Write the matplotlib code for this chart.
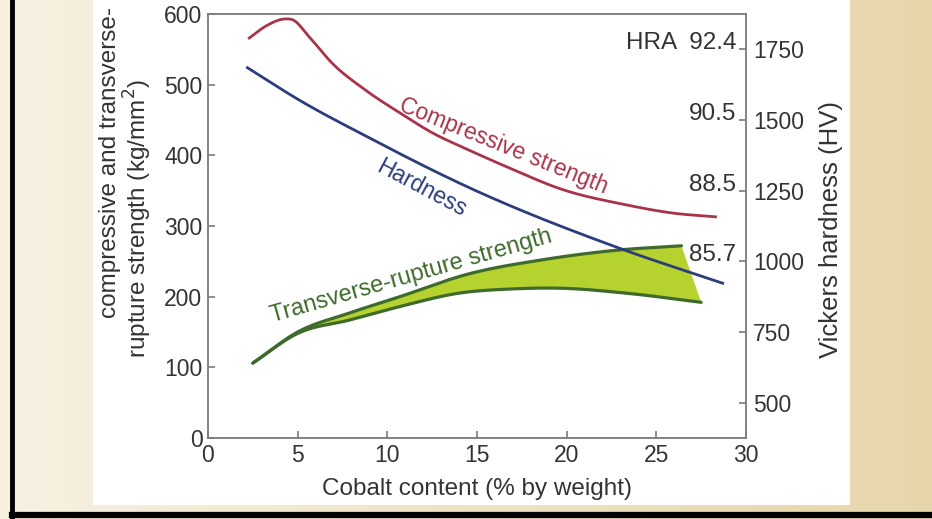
import numpy as np
import matplotlib.pyplot as plt
from matplotlib.patches import Rectangle, Polygon
from matplotlib.lines import Line2D
from matplotlib.colors import LinearSegmentedColormap

plt.rcParams['font.family'] = ['Liberation Sans', 'DejaVu Sans']

# Cobalt content (% by weight) vs strength (kg/mm^2)
comp_x = [2.3, 3.3, 4.3, 4.7, 5.7, 6.9, 8.8, 10.7, 12.5, 14.5, 17.0, 19.6, 23.3, 26.0, 28.3]
comp_y = [566, 584, 593, 592, 566, 531, 492, 460, 432, 408, 380, 353, 330, 318, 313]

# hardness is drawn on the left (strength) scale
hard_x = [2.2, 5.1, 8.9, 14.5, 23.0, 28.7]
hard_y = [524, 478, 426, 355, 268, 219]

trs_up_x = [2.5, 5.0, 7.9, 10.7, 14.5, 18.6, 22.9, 26.4]
trs_up_y = [106, 150, 177, 200, 232, 252, 266, 272]
trs_lo_x = [2.5, 5.0, 7.9, 10.7, 14.0, 17.0, 19.6, 23.3, 27.5]
trs_lo_y = [106, 148, 167, 186, 205, 211, 212, 205, 192]

hv_ticks = [500, 750, 1000, 1250, 1500, 1750]
hra_levels = [1750, 1500, 1250, 1000]
hra_labels = ['HRA  92.4', '90.5', '88.5', '85.7']

RED = '#a9344a'
BLUE = '#2c3d7c'
GREEN = '#3e6b2c'
FILL = '#b6d22e'
GREY = '#7a7a7a'
INK = '#333333'


def smooth(xs, ys, n=300):
    """Cubic Hermite curve through the read points (x must increase)."""
    xs = np.asarray(xs, float)
    ys = np.asarray(ys, float)
    m = np.gradient(ys, xs)
    xx = np.linspace(xs[0], xs[-1], n)
    yy = np.empty_like(xx)
    for k, x in enumerate(xx):
        i = min(np.searchsorted(xs, x, side='right') - 1, len(xs) - 2)
        h = xs[i + 1] - xs[i]
        t = (x - xs[i]) / h
        h00 = 2 * t**3 - 3 * t**2 + 1
        h10 = t**3 - 2 * t**2 + t
        h01 = -2 * t**3 + 3 * t**2
        h11 = t**3 - t**2
        yy[k] = h00 * ys[i] + h10 * h * m[i] + h01 * ys[i + 1] + h11 * h * m[i + 1]
    return xx, yy


fig = plt.figure(figsize=(9.32, 5.19), dpi=100)
W, H = 932, 519

# beige backdrop with a soft gradient
bg = fig.add_axes([0, 0, 1, 1], zorder=-10)
grad = np.linspace(0, 1, 256).reshape(1, -1)
cmap = LinearSegmentedColormap.from_list('beige', ['#f8f1e2', '#efe3c4', '#e8d6ab'])
bg.imshow(grad, aspect='auto', cmap=cmap, extent=[0, 1, 0, 1])
bg.set_xlim(0, 1)
bg.set_ylim(0, 1)
bg.axis('off')

fig.patches.append(Rectangle((93 / W, (H - 505) / H), (850 - 93) / W, 505 / H,
                             transform=fig.transFigure, facecolor='white',
                             edgecolor='none', zorder=-5))
fig.lines.append(Line2D([12 / W, 12 / W], [0, 1], transform=fig.transFigure,
                        color='black', lw=3.5))
fig.lines.append(Line2D([12 / W, 1], [4 / H, 4 / H], transform=fig.transFigure,
                        color='black', lw=4.5))

ax = fig.add_axes([208 / W, 81 / H, 538 / W, 424 / H])
ax.set_xlim(0, 30)
ax.set_ylim(0, 600)
ax.set_xticks([0, 5, 10, 15, 20, 25, 30])
ax.set_yticks([0, 100, 200, 300, 400, 500, 600])
for s in ax.spines.values():
    s.set_color(GREY)
    s.set_linewidth(1.3)
ax.tick_params(direction='in', length=5, width=1.2, color=GREY,
               labelsize=16.5, labelcolor=INK, pad=4)

# transverse-rupture band
ux, uy = smooth(trs_up_x, trs_up_y)
lx, ly = smooth(trs_lo_x, trs_lo_y)
poly = np.column_stack([np.concatenate([ux, lx[::-1]]), np.concatenate([uy, ly[::-1]])])
ax.add_patch(Polygon(poly, closed=True, facecolor=FILL, edgecolor='none', zorder=1))
ax.plot(ux, uy, color=GREEN, lw=2.3, solid_capstyle='round', zorder=2)
ax.plot(lx, ly, color=GREEN, lw=2.3, solid_capstyle='round', zorder=2)

cx, cy = smooth(comp_x, comp_y)
ax.plot(cx, cy, color=RED, lw=2.0, zorder=3)
hx, hy = smooth(hard_x, hard_y)
ax.plot(hx, hy, color=BLUE, lw=2.0, zorder=3)

ax.text(10.5, 457, 'Compressive strength', color=RED, fontsize=16.5,
        rotation=-22, rotation_mode='anchor', ha='left', va='bottom')
ax.text(9.2, 372, 'Hardness', color=BLUE, fontsize=16.5,
        rotation=-28, rotation_mode='anchor', ha='left', va='bottom')
ax.text(3.7, 157, 'Transverse-rupture strength', color=GREEN, fontsize=17,
        rotation=16, rotation_mode='anchor', ha='left', va='bottom')

ax.set_xlabel('Cobalt content (% by weight)', fontsize=17.5, color=INK, labelpad=8)
# two-line left label, each line placed where it sits in the picture
ax.text((110 - 208) / 538, (438 - 162) / 424, 'compressive and transverse-',
        transform=ax.transAxes, rotation=90, fontsize=17.5, color=INK,
        ha='center', va='center')
ax.text((138 - 208) / 538, (438 - 218) / 424, 'rupture strength (kg/mm$^2$)',
        transform=ax.transAxes, rotation=90, fontsize=17.5, color=INK,
        ha='center', va='center')

ax2 = ax.twinx()
ax2.set_ylim(375, 1875)
ax2.set_yticks(hv_ticks)
for s in ax2.spines.values():
    s.set_visible(False)
ax2.tick_params(direction='in', length=5, width=1.2, color=GREY,
                labelsize=16.5, labelcolor=INK, pad=5)
ax2.set_ylabel('Vickers hardness (HV)', fontsize=18.5, color=INK)
ax2.yaxis.set_label_coords((819 - 208) / 538, (438 - 230) / 424)

for lvl, lab in zip(hra_levels, hra_labels):
    ax2.text(29.45, lvl, lab, fontsize=17.5, color=INK,
             ha='right', va='baseline')

fig.savefig('out.png', dpi=100)
